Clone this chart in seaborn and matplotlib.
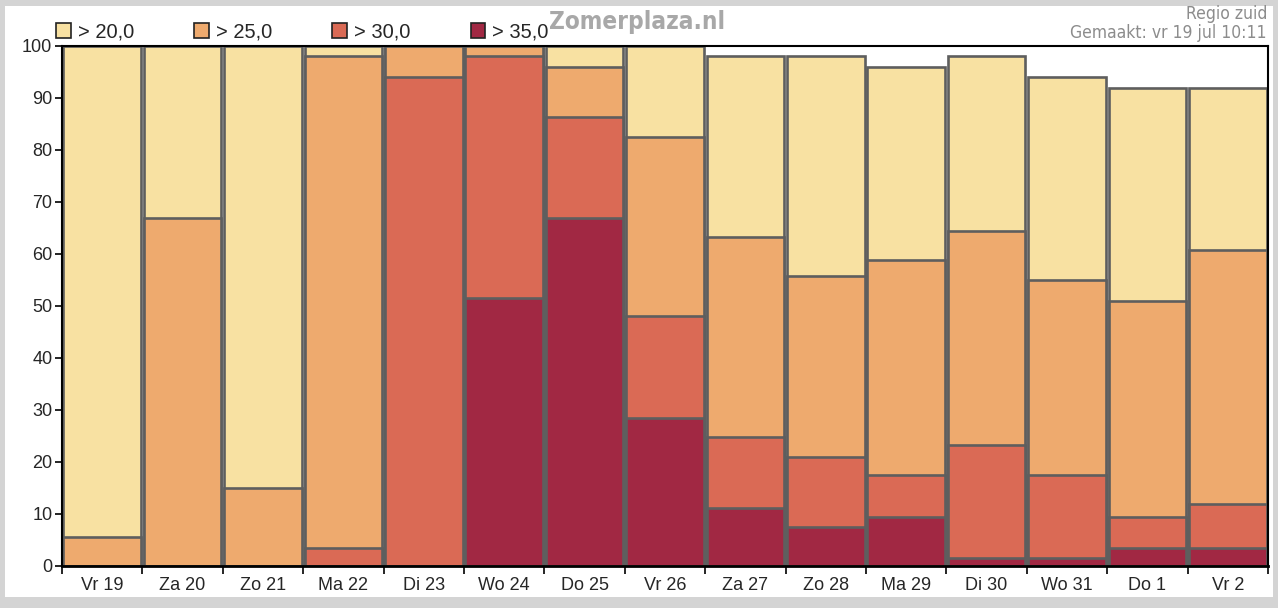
import matplotlib
matplotlib.use("Agg")
import numpy as np
import pandas as pd
import seaborn as sns
from matplotlib import pyplot as plt
from matplotlib.patches import Rectangle

DAYS = ["Vr 19", "Za 20", "Zo 21", "Ma 22", "Di 23", "Wo 24", "Do 25", "Vr 26",
        "Za 27", "Zo 28", "Ma 29", "Di 30", "Wo 31", "Do 1", "Vr 2"]

# kans (%) op max temperatuur boven drempel
P_20 = [100, 100, 100, 100, 100, 100, 100, 100, 98, 98, 96, 98, 94, 92, 92]
P_25 = [5.5, 67, 15, 98, 100, 100, 96, 82.5, 63.3, 55.8, 58.8, 64.5, 55, 51, 60.8]
P_30 = [0, 0, 0, 3.5, 94, 98, 86.3, 48, 24.8, 21, 17.5, 23.3, 17.5, 9.5, 12]
P_35 = [0, 0, 0, 0, 0, 51.5, 67, 28.5, 11.2, 7.5, 9.5, 1.5, 1.5, 3.5, 3.5]

SERIES = ["> 20,0", "> 25,0", "> 30,0", "> 35,0"]
COLORS = ["#f8e1a2", "#eeaa6e", "#da6a55", "#a12843"]

FONT = ["Liberation Sans", "DejaVu Sans"]


def main():
    sns.set_style("white")
    plt.rcParams["font.family"] = FONT

    df = pd.DataFrame({"dag": DAYS, "> 20,0": P_20, "> 25,0": P_25,
                       "> 30,0": P_30, "> 35,0": P_35})

    fig = plt.figure(figsize=(12.78, 6.08), dpi=100)
    fig.patch.set_facecolor("#d4d4d4")
    fig.add_artist(Rectangle((5 / 1278, 11 / 608), 1268 / 1278, 591 / 608,
                             transform=fig.transFigure, facecolor="white",
                             edgecolor="none", zorder=0))
    ax = fig.add_axes([62 / 1278, 42 / 608, 1206 / 1278, 520 / 608])
    ax.set_facecolor("white")

    # overlappende balken, grootste eerst
    for name, color in zip(SERIES, COLORS):
        sns.barplot(data=df, x="dag", y=name, color=color, width=0.965,
                    edgecolor="#5e5e5e", linewidth=1.9, saturation=1,
                    ax=ax, zorder=2)

    ax.set_xlim(-0.5, len(DAYS) - 0.5)
    ax.set_ylim(0, 100)
    ax.set_yticks(np.arange(0, 101, 10))
    ax.set_xlabel("")
    ax.set_ylabel("")
    ax.set_xticks(np.arange(len(DAYS)))
    ax.set_xticklabels(DAYS)
    ax.set_xticks(np.arange(-0.5, len(DAYS)), minor=True)
    ax.tick_params(axis="x", which="major", length=0, pad=8, labelsize=13)
    ax.tick_params(axis="x", which="minor", length=6, width=1.2, color="black",
                   direction="out", bottom=True)
    ax.tick_params(axis="y", length=5, width=1.2, color="black", direction="out",
                   left=True, labelsize=13, pad=2)
    for s in ax.spines.values():
        s.set_color("black")
        s.set_linewidth(1.5)
    ax.spines["bottom"].set_linewidth(2)

    handles = [Rectangle((0, 0), 1, 1, facecolor=c, edgecolor="#222222", linewidth=1.2)
               for c in COLORS]
    fig.legend(handles, SERIES, loc="center left", bbox_to_anchor=(56 / 1278, 1 - 32 / 608),
               ncol=4, frameon=False, fontsize=14.5, handlelength=0.72, handleheight=0.72,
               handletextpad=0.35, columnspacing=3.0, borderaxespad=0, borderpad=0)

    fig.text(637 / 1278, 1 - 22 / 608, "Zomerplaza.nl", ha="center", va="center",
             fontsize=17.5, fontweight="bold", color="#a8a8a8", family="DejaVu Sans",
             fontstretch="condensed")
    fig.text(1267 / 1278, 1 - 14 / 608, "Regio zuid", ha="right", va="center",
             fontsize=12.5, color="#8c8c8c", family="DejaVu Sans", fontstretch="condensed")
    fig.text(1267 / 1278, 1 - 33 / 608, "Gemaakt: vr 19 jul 10:11", ha="right",
             va="center", fontsize=12.5, color="#8c8c8c", family="DejaVu Sans",
             fontstretch="condensed")

    fig.savefig("out.png", dpi=100)
    plt.close(fig)


if __name__ == "__main__":

    main()
